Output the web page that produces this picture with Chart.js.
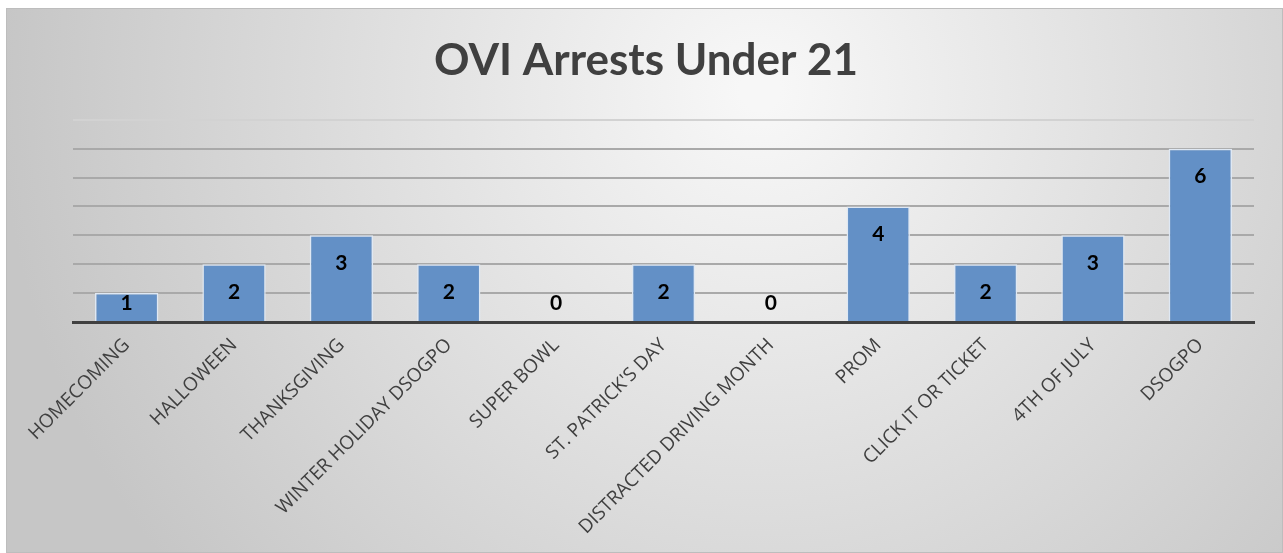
<!DOCTYPE html>
<html>
<head>
<meta charset="utf-8">
<script src="https://cdn.jsdelivr.net/npm/chart.js@4"></script>
<style>
  html, body { margin: 0; padding: 0; background: #ffffff; }
  #wrap { width: 1283px; height: 553px; }
</style>
</head>
<body>
<div id="wrap"><canvas id="arrestsChart" width="1283" height="553"></canvas></div>
<script>
// Chart data
const categories = ['HOMECOMING', 'HALLOWEEN', 'THANKSGIVING', 'WINTER HOLIDAY DSOGPO', 'SUPER BOWL',
  "ST. PATRICK'S DAY", 'DISTRACTED DRIVING MONTH', 'PROM', 'CLICK IT OR TICKET', '4TH OF JULY', 'DSOGPO'];
const arrests = [1, 2, 3, 2, 0, 2, 0, 4, 2, 3, 6];
const yMax = 7;

// gray gradient card behind the chart
const cardBackground = {
  id: 'cardBackground',
  beforeDraw(chart) {
    const ctx = chart.ctx;
    ctx.save();
    const g = ctx.createRadialGradient(760, 90, 20, 760, 90, 760);
    g.addColorStop(0, '#f7f7f7');
    g.addColorStop(1, '#c6c6c6');
    ctx.fillStyle = g;
    ctx.fillRect(6, 8, 1276, 544);
    ctx.strokeStyle = '#bdbdbd';
    ctx.lineWidth = 1;
    ctx.strokeRect(6.5, 8.5, 1276, 544);
    ctx.restore();
  }
};

// value labels near the top inside each bar
const valueLabels = {
  id: 'valueLabels',
  afterDatasetsDraw(chart) {
    const ctx = chart.ctx;
    const meta = chart.getDatasetMeta(0);
    const base = chart.scales.y.getPixelForValue(0);
    ctx.save();
    ctx.font = 'bold 21px Lato';
    ctx.fillStyle = '#000000';
    ctx.textAlign = 'center';
    ctx.textBaseline = 'middle';
    meta.data.forEach((bar, i) => {
      const y = Math.min(bar.y + 28, base - 19);
      ctx.fillText(String(arrests[i]), bar.x, y);
    });
    ctx.restore();
  }
};

const ctx = document.getElementById('arrestsChart').getContext('2d');
new Chart(ctx, {
  type: 'bar',
  data: {
    labels: categories,
    datasets: [{
      data: arrests,
      backgroundColor: '#6390c6',
      borderColor: '#dfe8f3',
      borderWidth: 1.5,
      categoryPercentage: 1,
      barPercentage: 0.59
    }]
  },
  options: {
    responsive: false,
    animation: false,
    layout: { padding: { left: 38, right: 29, top: 8, bottom: 0 } },
    plugins: {
      legend: { display: false },
      tooltip: { enabled: false },
      title: {
        display: true,
        text: 'OVI Arrests Under 21',
        color: '#404040',
        font: { family: 'Lato', size: 44, weight: 'bold', lineHeight: 1.2 },
        padding: { top: 26, bottom: 33 }
      }
    },
    scales: {
      x: {
        grid: { display: false },
        border: { display: true, color: '#404040', width: 3 },
        ticks: {
          color: '#404040',
          font: { family: 'Open Sans', size: 19 },
          minRotation: 45,
          maxRotation: 45,
          padding: 4
        },
        afterFit(scale) { scale.height = 231; }
      },
      y: {
        min: 0,
        max: yMax,
        ticks: { display: false, stepSize: 1 },
        border: { display: false },
        grid: {
          drawTicks: false,
          lineWidth: 2,
          color: c => c.tick.value === yMax ? '#d2d2d2' : '#a9a9a9'
        },
        afterFit(scale) { scale.width = 35; }
      }
    }
  },
  plugins: [cardBackground, valueLabels]
});
</script>
</body>
</html>
